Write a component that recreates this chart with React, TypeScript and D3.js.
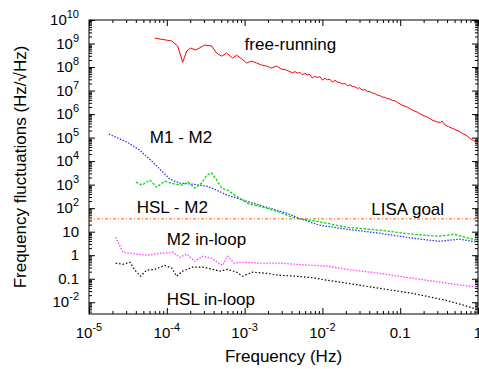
import * as d3 from "d3";
import React, { useEffect, useRef } from "react";

const width = 479;
const height = 369;
const margin = { top: 20, right: 1, bottom: 55, left: 89 };

// free-running (red, solid)
const freeFreq = [
  7.0e-5, 1.16e-4, 1.38e-4, 1.6e-4, 1.8e-4, 2.03e-4, 2.36e-4, 3.07e-4, 3.78e-4,
  4.38e-4, 5.07e-4, 5.87e-4, 7.0e-4, 7.9e-4, 9.2e-4, 1.06e-3, 1.23e-3, 1.43e-3,
  1.65e-3, 1.91e-3, 2.22e-3, 2.57e-3, 2.98e-3, 3.45e-3, 4.12e-3, 4.45e-3, 4.78e-3,
  5.15e-3, 5.55e-3, 5.95e-3, 6.4e-3, 6.9e-3, 7.4e-3, 8.0e-3, 8.6e-3, 9.3e-3,
  1.0e-2, 1.08e-2, 1.16e-2, 1.25e-2, 1.34e-2, 1.45e-2, 1.56e-2, 1.68e-2, 1.8e-2,
  1.95e-2, 2.1e-2, 2.25e-2, 2.43e-2, 2.6e-2, 2.8e-2, 3.0e-2, 3.26e-2, 3.5e-2,
  3.78e-2, 4.1e-2, 4.38e-2, 4.7e-2, 5.07e-2, 5.45e-2, 5.87e-2, 6.3e-2, 6.8e-2,
  7.3e-2, 7.9e-2, 8.5e-2, 9.2e-2, 0.106, 0.123, 0.143, 0.165, 0.191, 0.222,
  0.257, 0.298, 0.33, 0.345, 0.378, 0.42, 0.464, 0.52, 0.57, 0.63, 0.7, 0.81,
  0.88, 0.97,
];
const freeVal = [
  1.7e9, 1.28e9, 7.8e8, 1.6e8, 4.8e8, 6.4e8, 5.3e8, 8.6e8, 7.8e8,
  3.9e8, 2.9e8, 3.9e8, 2.4e8, 3.2e8, 2.2e8, 1.48e8, 1.8e8, 1.48e8,
  1.22e8, 1.1e8, 9.1e7, 1.1e8, 8.2e7, 7.5e7, 5.6e7, 6.4e7, 5.5e7,
  5.9e7, 4.6e7, 5.4e7, 4.6e7, 4.9e7, 3.4e7, 4.1e7, 3.6e7, 3.9e7,
  2.8e7, 3.3e7, 2.9e7, 3.0e7, 2.3e7, 2.7e7, 2.3e7, 2.2e7, 1.9e7,
  2.0e7, 1.6e7, 1.75e7, 1.5e7, 1.45e7, 1.25e7, 1.3e7, 1.05e7, 1.1e7,
  9.2e6, 9.0e6, 7.8e6, 7.6e6, 6.4e6, 6.2e6, 5.3e6, 5.2e6, 4.6e6,
  4.4e6, 3.8e6, 3.7e6, 3.1e6, 2.4e6, 2.0e6, 1.48e6, 1.22e6, 9.1e5, 7.5e5,
  5.6e5, 4.6e5, 4.4e5, 5.0e5, 3.4e5, 2.9e5, 2.5e5, 2.1e5, 1.9e5, 1.5e5, 1.28e5, 8.7e4,
  7.5e4, 5.8e4,
];

// M1 - M2 (blue, dotted)
const m1m2Freq = [
  1.8e-5, 3.07e-5, 4.5e-5, 6.6e-5, 8.9e-5, 1.1e-4, 1.47e-4, 2.15e-4, 3.26e-4,
  4.4e-4, 5.9e-4, 7.9e-4, 1.16e-3, 1.9e-3, 3.45e-3, 5.1e-3, 9.1e-3, 2.03e-2,
  5.4e-2, 0.143, 0.316, 0.57, 0.97,
];
const m1m2Val = [
  1.4e5, 6.5e4, 2.9e4, 9.1e3, 3.4e3, 1.7e3, 1.16e3, 1.05e3, 8.6e2,
  5.8e2, 3.6e2, 2.7e2, 1.8e2, 1.1e2, 61, 37, 19, 12.8,
  8.6, 5.3, 3.9, 4.8, 3.6,
];

// HSL - M2 (green, dashed)
const hslM2Freq = [
  4.0e-5, 4.8e-5, 6.05e-5, 7.4e-5, 9.4e-5, 1.27e-4, 1.56e-4, 1.86e-4, 2.3e-4,
  2.8e-4, 3.26e-4, 3.78e-4, 4.4e-4, 5.1e-4, 6.05e-4, 7.9e-4, 9.4e-4, 1.16e-3,
  1.55e-3, 1.9e-3, 2.8e-3, 4.1e-3, 5.5e-3, 8.4e-3, 2.03e-2, 5.4e-2, 0.143,
  0.316, 0.49, 0.97,
];
const hslM2Val = [
  1.28e3, 9.6e2, 1.55e3, 7.8e2, 1.4e3, 1.05e3, 9.5e2, 1.28e3, 7.1e2,
  1.16e3, 2.5e3, 3.1e3, 1.55e3, 7.1e2, 5.8e2, 3.2e2, 2.2e2, 1.48e2,
  1.22e2, 1.0e2, 68, 41, 34, 28, 15.5, 11.6, 7.8,
  6.4, 7.8, 4.3,
];

// M2 in-loop (magenta, dotted)
const m2LoopFreq = [
  2.2e-5, 2.73e-5, 3.36e-5, 4.25e-5, 5.5e-5, 8.1e-5, 1.19e-4, 1.47e-4, 1.8e-4,
  2.3e-4, 2.9e-4, 3.78e-4, 5.2e-4, 6.05e-4, 7.4e-4, 9.4e-4, 1.55e-3, 2.8e-3,
  4.6e-3, 7.4e-3, 1.16e-2, 2.03e-2, 5.4e-2, 0.143, 0.39, 0.97,
];
const m2LoopVal = [
  5.8, 1.34, 1.22, 1.1, 1.0, 1.2, 1.34, 0.82, 1.1,
  0.56, 0.9, 0.74, 0.37, 0.9, 0.46, 0.5, 0.46, 0.46,
  0.41, 0.37, 0.34, 0.25, 0.17, 0.105, 0.065, 0.044,
];

// HSL in-loop (black, dotted)
const hslLoopFreq = [
  2.2e-5, 2.73e-5, 3.36e-5, 3.9e-5, 4.6e-5, 5.5e-5, 7.0e-5, 9.4e-5, 1.16e-4,
  1.34e-4, 1.6e-4, 2.15e-4, 2.9e-4, 3.9e-4, 4.8e-4, 6.05e-4, 7.9e-4, 9.4e-4,
  1.27e-3, 1.9e-3, 2.8e-3, 4.6e-3, 7.4e-3, 1.16e-2, 2.03e-2, 5.4e-2, 0.143,
  0.39, 0.66, 0.97,
];
const hslLoopVal = [
  0.46, 0.41, 0.5, 0.23, 0.128, 0.23, 0.25, 0.37, 0.28,
  0.128, 0.21, 0.31, 0.31, 0.25, 0.21, 0.25, 0.19, 0.128,
  0.19, 0.17, 0.14, 0.128, 0.11, 0.086, 0.065, 0.039, 0.024,
  0.012, 0.0074, 0.005,
];

const lisaGoal = 35;

const xTicks = [1e-5, 1e-4, 1e-3, 1e-2, 0.1, 1];
const xTickText = ["10^-5", "10^-4", "10^-3", "10^-2", "0.1", "1"];
const yTicks = [1e10, 1e9, 1e8, 1e7, 1e6, 1e5, 1e4, 1e3, 1e2, 10, 1, 0.1, 1e-2];
const yTickText = [
  "10^10", "10^9", "10^8", "10^7", "10^6", "10^5", "10^4", "10^3", "10^2",
  "10", "1", "0.1", "10^-2",
];

const labelText = ["free-running", "M1 - M2", "HSL - M2", "LISA goal", "M2 in-loop", "HSL in-loop"];
const labelFreq = [1e-3, 6.05e-5, 4.1e-5, 0.0425, 1e-4, 1e-4];
const labelVal = [5.3e8, 5.8e4, 61, 50, 2.67, 7.4e-3];

const font = "'Liberation Sans', Arial, Helvetica, sans-serif";

export default function App() {
  const svgRef = useRef(null);

  useEffect(() => {
    const svg = d3.select(svgRef.current);
    svg.selectAll("*").remove();

    const x = d3
      .scaleLog()
      .domain([1e-5, 1])
      .range([margin.left, width - margin.right]);
    const y = d3
      .scaleLog()
      .domain([Math.pow(10, -2.5), 1e10])
      .range([height - margin.bottom, margin.top]);

    const x0 = margin.left;
    const x1 = width - margin.right;
    const y0 = height - margin.bottom;
    const y1 = margin.top;

    // minor tick positions
    const xMinor = [];
    for (let e = -5; e < 0; e++) for (let k = 2; k < 10; k++) xMinor.push(k * Math.pow(10, e));
    const yMinor = [];
    for (let e = -3; e < 10; e++)
      for (let k = 2; k < 10; k++) {
        const v = k * Math.pow(10, e);
        if (v >= y.domain()[0]) yMinor.push(v);
      }

    const axisStyle = (g) => {
      g.select(".domain").remove();
      g.selectAll("text").remove();
      g.selectAll("line").attr("stroke", "#000").attr("stroke-width", 1);
    };

    // ticks on all four sides, pointing inward
    svg.append("g").attr("transform", `translate(0,${y0})`)
      .call(d3.axisBottom(x).tickValues(xTicks).tickSize(-6)).call(axisStyle);
    svg.append("g").attr("transform", `translate(0,${y0})`)
      .call(d3.axisBottom(x).tickValues(xMinor).tickSize(-3)).call(axisStyle);
    svg.append("g").attr("transform", `translate(0,${y1})`)
      .call(d3.axisTop(x).tickValues(xTicks).tickSize(-6)).call(axisStyle);
    svg.append("g").attr("transform", `translate(0,${y1})`)
      .call(d3.axisTop(x).tickValues(xMinor).tickSize(-3)).call(axisStyle);
    svg.append("g").attr("transform", `translate(${x0},0)`)
      .call(d3.axisLeft(y).tickValues(yTicks).tickSize(-6)).call(axisStyle);
    svg.append("g").attr("transform", `translate(${x0},0)`)
      .call(d3.axisLeft(y).tickValues(yMinor).tickSize(-3)).call(axisStyle);
    svg.append("g").attr("transform", `translate(${x1},0)`)
      .call(d3.axisRight(y).tickValues(yTicks).tickSize(-6)).call(axisStyle);
    svg.append("g").attr("transform", `translate(${x1},0)`)
      .call(d3.axisRight(y).tickValues(yMinor).tickSize(-3)).call(axisStyle);

    // border
    svg.append("rect")
      .attr("x", x0).attr("y", y1)
      .attr("width", x1 - x0).attr("height", y0 - y1)
      .attr("fill", "none").attr("stroke", "#000").attr("stroke-width", 1);

    // tick labels with superscripts
    const addLabel = (sel, txt) => {
      const parts = txt.split("^");
      sel.append("tspan").text(parts[0]);
      if (parts[1]) {
        sel.append("tspan").attr("dy", -7).attr("font-size", 11).text(parts[1]);
      }
    };
    xTicks.forEach((t, i) => {
      const el = svg.append("text")
        .attr("x", x(t)).attr("y", y0 + 24)
        .attr("text-anchor", "middle")
        .attr("font-family", font).attr("font-size", 15).attr("fill", "#000");
      addLabel(el, xTickText[i]);
    });
    yTicks.forEach((t, i) => {
      const el = svg.append("text")
        .attr("x", x0 - 10).attr("y", y(t) + 5)
        .attr("text-anchor", "end")
        .attr("font-family", font).attr("font-size", 15).attr("fill", "#000");
      addLabel(el, yTickText[i]);
    });

    // axis titles
    svg.append("text")
      .attr("x", (x0 + x1) / 2).attr("y", 362)
      .attr("text-anchor", "middle")
      .attr("font-family", font).attr("font-size", 17)
      .text("Frequency (Hz)");
    svg.append("text")
      .attr("transform", `translate(26,${(y0 + y1) / 2}) rotate(-90)`)
      .attr("text-anchor", "middle")
      .attr("font-family", font).attr("font-size", 17)
      .text("Frequency fluctuations (Hz/\u221AHz)");

    const plot = svg.append("g");
    const line = d3.line().x((d) => x(d[0])).y((d) => y(d[1]));
    const series = [
      { f: freeFreq, v: freeVal, color: "#ff0000", dash: null, w: 1 },
      { f: m1m2Freq, v: m1m2Val, color: "#3030ff", dash: "1.5,1.5", w: 1.3 },
      { f: hslM2Freq, v: hslM2Val, color: "#00dd00", dash: "2.5,1.5", w: 1.3 },
      { f: m2LoopFreq, v: m2LoopVal, color: "#ff40ff", dash: "1.5,1.5", w: 1.3 },
      { f: hslLoopFreq, v: hslLoopVal, color: "#000000", dash: "1.5,2", w: 1.2 },
    ];
    series.forEach((s) => {
      plot.append("path")
        .datum(s.f.map((f, i) => [f, s.v[i]]))
        .attr("fill", "none")
        .attr("stroke", s.color)
        .attr("stroke-width", s.w)
        .attr("stroke-dasharray", s.dash)
        .attr("d", line);
    });

    // LISA goal line
    plot.append("line")
      .attr("x1", x0).attr("x2", x1)
      .attr("y1", y(lisaGoal)).attr("y2", y(lisaGoal))
      .attr("stroke", "#ff5500").attr("stroke-width", 1)
      .attr("stroke-dasharray", "3,2,1,2");

    // curve labels
    labelText.forEach((t, i) => {
      svg.append("text")
        .attr("x", x(labelFreq[i])).attr("y", y(labelVal[i]))
        .attr("font-family", font).attr("font-size", 17).attr("fill", "#000")
        .text(t);
    });
  });

  return (
    <svg
      ref={svgRef}
      width={width}
      height={height}
      style={{ position: "absolute", left: 0, top: 0, background: "#fff" }}
    ></svg>
  );
}
